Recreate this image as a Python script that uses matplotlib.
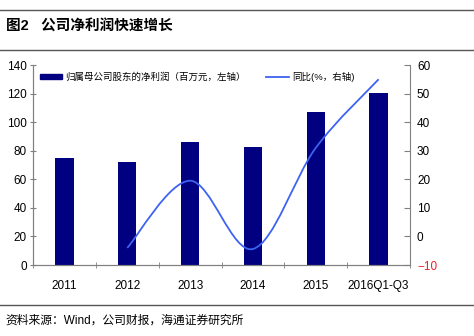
import matplotlib.pyplot as plt
from matplotlib.path import Path
from matplotlib.patches import PathPatch
from matplotlib.lines import Line2D
from matplotlib.patches import Patch
import numpy as np

plt.rcParams['font.family'] = ['Liberation Sans', 'Noto Sans CJK SC', 'DejaVu Sans']

# === Data ===
years = ["2011", "2012", "2013", "2014", "2015", "2016Q1-Q3"]
profit = [75, 72, 86, 82.5, 107, 120.5]          # 百万元
yoy_years = ["2012", "2013", "2014", "2015", "2016Q1-Q3"]
yoy = [-4, 19.5, -4.4, 31, 55]                   # %

bar_color = "#000080"
line_color = "#3D63F0"
axis_gray = "#808080"

fig = plt.figure(figsize=(4.74, 3.36), dpi=100)
ax = fig.add_axes([0.0696, 0.2113, 0.7954, 0.5952])
ax2 = ax.twinx()

x = np.arange(len(years))
ax.bar(x, profit, width=0.29, color=bar_color, zorder=2)
ax.set_xlim(-0.5, len(years) - 0.5)
ax.set_ylim(0, 140)
ax.set_yticks(range(0, 141, 20))
ax.set_xticks(x)
ax.set_xticklabels(years)
ax.set_xticks(np.arange(-0.5, len(years)), minor=True)
ax.tick_params(axis="x", which="major", length=0, pad=11, labelsize=8.5)
ax.tick_params(axis="x", which="minor", direction="inout", length=5, color=axis_gray)
ax.tick_params(axis="y", direction="inout", length=5, color=axis_gray, labelsize=8.5, pad=2)

# smoothed growth line (Catmull-Rom bezier through the points)
xi = np.array([years.index(y) for y in yoy_years], dtype=float)
yi = np.array(yoy, dtype=float)
verts = [(xi[0], yi[0])]
codes = [Path.MOVETO]
n = len(xi)
for i in range(n - 1):
    p0 = (xi[max(i - 1, 0)], yi[max(i - 1, 0)])
    p1 = (xi[i], yi[i])
    p2 = (xi[i + 1], yi[i + 1])
    p3 = (xi[min(i + 2, n - 1)], yi[min(i + 2, n - 1)])
    c1 = (p1[0] + (p2[0] - p0[0]) / 6, p1[1] + (p2[1] - p0[1]) / 6)
    c2 = (p2[0] - (p3[0] - p1[0]) / 6, p2[1] - (p3[1] - p1[1]) / 6)
    verts += [c1, c2, p2]
    codes += [Path.CURVE4] * 3
ax2.add_patch(PathPatch(Path(verts, codes), facecolor="none",
                        edgecolor=line_color, linewidth=1.3, zorder=3))
ax2.set_ylim(-10, 60)
ax2.set_yticks(range(-10, 61, 10))
ax2.tick_params(axis="y", direction="in", length=4, color=axis_gray, labelsize=8.5, pad=5)
ax2.get_yticklabels()[0].set_color("#E8202A")

for a in (ax, ax2):
    a.spines["top"].set_visible(False)
    for s in ("left", "right", "bottom"):
        a.spines[s].set_color(axis_gray)
ax.spines["right"].set_visible(False)

# Legend
handles = [Patch(color=bar_color), Line2D([], [], color=line_color, lw=1.3)]
labels = ["归属母公司股东的净利润（百万元，左轴）", "同比(%，右轴)"]
ax.legend(handles, labels, loc="upper left", bbox_to_anchor=(0.0, 1.0), ncol=2,
          frameon=False, fontsize=6.8, handlelength=2.4, handleheight=0.5,
          handletextpad=0.3, columnspacing=2.2, borderaxespad=0.3)

# Header / footer
fig.add_artist(Line2D([0, 1], [1 - 10 / 336, 1 - 10 / 336], color="#555555", lw=1))
fig.add_artist(Line2D([0, 1], [1 - 50 / 336, 1 - 50 / 336], color="#555555", lw=1))
fig.add_artist(Line2D([0, 1], [1 - 305 / 336, 1 - 305 / 336], color="#555555", lw=1))
fig.text(0.012, 1 - 27 / 336, "图2   公司净利润快速增长", fontsize=10.5,
         fontweight="bold", va="center", ha="left")
fig.text(0.012, 1 - 321 / 336, "资料来源：Wind，公司财报，海通证券研究所",
         fontsize=8.5, va="center", ha="left")

plt.savefig("out.png", dpi=100)
